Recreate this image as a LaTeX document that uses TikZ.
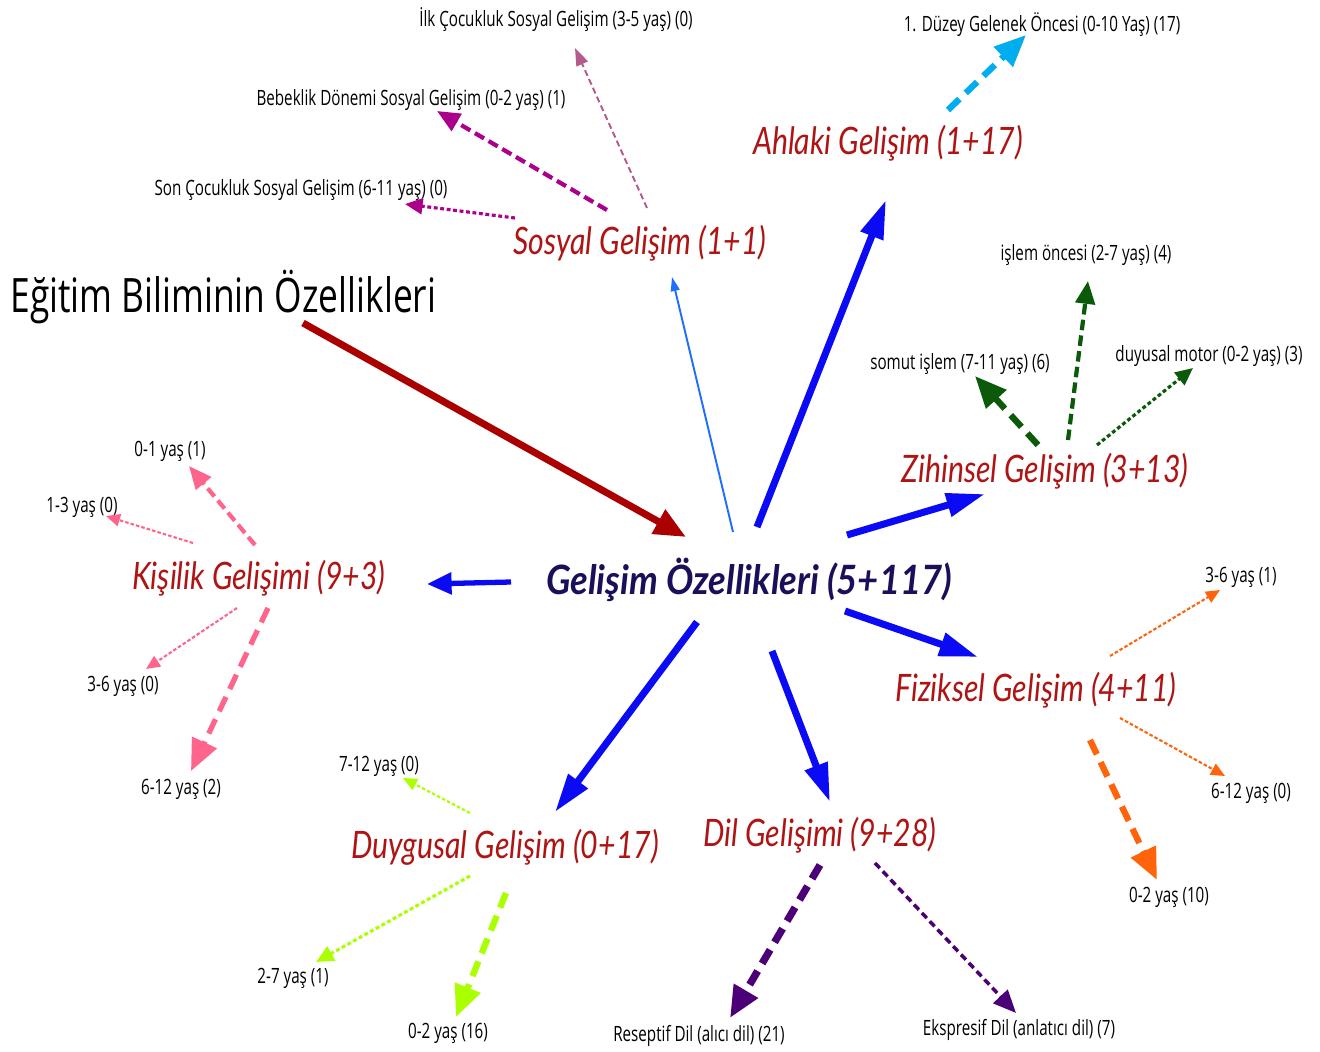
\documentclass[tikz,border=0pt]{standalone}
\usepackage{fontspec}
\usetikzlibrary{arrows.meta,calc}
\newfontfamily\leaffont[FakeStretch=0.72]{Open Sans}
\newfontfamily\titlefont[FakeStretch=0.745]{Open Sans}
\newfontfamily\handfont[FakeStretch=0.8]{Lato}
\newfontfamily\centerfont[FakeStretch=0.9]{Lato}
\definecolor{catred}{RGB}{175,20,20}
\definecolor{navy}{RGB}{26,16,90}
\definecolor{myblue}{RGB}{10,10,245}
\definecolor{lightblue}{RGB}{30,110,255}
\definecolor{darkred}{RGB}{170,0,0}
\definecolor{magent}{RGB}{170,0,140}
\definecolor{mauve}{RGB}{180,90,140}
\definecolor{skyb}{RGB}{0,174,239}
\definecolor{dgreen}{RGB}{10,90,10}
\definecolor{orng}{RGB}{255,100,10}
\definecolor{purp}{RGB}{75,0,120}
\definecolor{lime}{RGB}{170,255,0}
\definecolor{pink}{RGB}{255,100,140}
\begin{document}
\begin{tikzpicture}[x=0.02cm,y=-0.02cm,
  leaf/.style={font=\leaffont\fontsize{12}{14}\selectfont, inner sep=0pt, text=black},
  cat/.style={font=\handfont\itshape\fontsize{21.5}{26}\selectfont, inner sep=0pt, text=catred},
  bigarr/.style={draw=myblue, line width=4pt, -{Triangle[length=22pt,width=13pt]}},
  thinarr/.style={draw=lightblue, line width=1.1pt, -{Triangle[length=8pt,width=5pt]}},
  redarr/.style={draw=darkred, line width=4pt, -{Triangle[length=18pt,width=15pt]}},
  dot/.style={line width=1.2pt, dash pattern=on 2pt off 1.2pt, -{Triangle[length=8pt,width=7pt]}},
  dotm/.style={line width=1.8pt, dash pattern=on 2.2pt off 1.5pt, -{Triangle[length=10pt,width=9pt]}},
  dashm/.style={line width=2.4pt, dash pattern=on 6pt off 3pt, -{Triangle[length=13pt,width=11pt]}},
  dashb/.style={line width=3.6pt, dash pattern=on 9pt off 5pt, -{Triangle[length=18pt,width=15pt]}}
]
\useasboundingbox (0,0) rectangle (1320,1052);
\fill[white] (0,0) rectangle (1320,1052);

% nodes
\node[font=\titlefont\fontsize{27}{32}\selectfont, inner sep=0pt, anchor=west] (T) at (10,297) {Eğitim Biliminin Özellikleri};
\coordinate (Tc) at (222,297);
\node[font=\centerfont\bfseries\itshape\fontsize{23}{28}\selectfont, inner sep=0pt, text=navy] (G) at (749,580) {Gelişim Özellikleri (5+117)};
\node[cat] (sos) at (640,243) {Sosyal Gelişim (1+1)};
\node[cat] (ahl) at (888,143) {Ahlaki Gelişim (1+17)};
\node[cat] (zih) at (1045,471) {Zihinsel Gelişim (3+13)};
\node[cat] (fiz) at (1036,690) {Fiziksel Gelişim (4+11)};
\node[cat] (dil) at (820,835) {Dil Gelişimi (9+28)};
\node[cat] (duy) at (505,847) {Duygusal Gelişim (0+17)};
\node[cat] (kis) at (259,578) {Kişilik Gelişimi (9+3)};

\node[leaf] (ilk) at (556,20) {İlk Çocukluk Sosyal Gelişim (3-5 yaş) (0)};
\node[leaf] (beb) at (411,100) {Bebeklik Dönemi Sosyal Gelişim (0-2 yaş) (1)};
\node[leaf] (son) at (301,190) {Son Çocukluk Sosyal Gelişim (6-11 yaş) (0)};
\node[leaf] (duz) at (1042,25) {1. Düzey Gelenek Öncesi (0-10 Yaş) (17)};
\node[leaf] (ion) at (1086,255) {işlem öncesi (2-7 yaş) (4)};
\node[leaf] (som) at (960,364) {somut işlem (7-11 yaş) (6)};
\node[leaf] (dmot) at (1209,356) {duyusal motor (0-2 yaş) (3)};
\node[leaf] (f36) at (1241,577) {3-6 yaş (1)};
\node[leaf] (f612) at (1251,793) {6-12 yaş (0)};
\node[leaf] (f02) at (1169,897) {0-2 yaş (10)};
\node[leaf] (eks) at (1019,1030) {Ekspresif Dil (anlatıcı dil) (7)};
\node[leaf] (res) at (699,1036) {Reseptif Dil (alıcı dil) (21)};
\node[leaf] (d016) at (448,1033) {0-2 yaş (16)};
\node[leaf] (d27) at (293,978) {2-7 yaş (1)};
\node[leaf] (d712) at (379,766) {7-12 yaş (0)};
\node[leaf] (k612) at (181,789) {6-12 yaş (2)};
\node[leaf] (k36) at (123,686) {3-6 yaş (0)};
\node[leaf] (k13) at (82,507) {1-3 yaş (0)};
\node[leaf] (k01) at (170,451) {0-1 yaş (1)};

% main arrows
\draw[redarr] ($(Tc)+(81,26)$) -- ($(G)+(-63,-43)$);
\draw[thinarr] ($(G)+(-16,-48)$) -- ($(sos)+(32,34)$);
\draw[bigarr] ($(G)+(8,-53)$) -- ($(ahl)+(-2,57)$);
\draw[bigarr] ($(G)+(98,-45)$) -- ($(zih)+(-60,23)$);
\draw[bigarr] ($(G)+(96,31)$) -- ($(fiz)+(-58,-33)$);
\draw[bigarr] ($(G)+(23,71)$) -- ($(dil)+(10,-33)$);
\draw[bigarr] ($(G)+(-52,42)$) -- ($(duy)+(50,-35)$);
\draw[bigarr, line width=3pt, -{Triangle[length=14pt,width=12pt]}] ($(G)+(-238,2)$) -- ($(kis)+(168,6)$);

% sosyal
\draw[mauve, line width=1.1pt, dash pattern=on 3.5pt off 2pt, -{Triangle[length=10pt,width=7pt]}] ($(sos)+(7,-35)$) -- ($(ilk)+(19,28)$);
\draw[magent, dashm] ($(sos)+(-33,-33)$) -- ($(beb)+(26,11)$);
\draw[magent, dotm] ($(sos)+(-125,-25)$) -- ($(son)+(104,14)$);
% ahlaki
\draw[skyb, dashb] ($(ahl)+(60,-33)$) -- ($(duz)+(-16,10)$);
% zihinsel
\draw[dgreen, dashb] ($(zih)+(-7,-26)$) -- ($(som)+(15,12)$);
\draw[dgreen, dashm] ($(zih)+(23,-31)$) -- ($(ion)+(2,26)$);
\draw[dgreen, dotm] ($(zih)+(52,-26)$) -- ($(dmot)+(-16,12)$);
% fiziksel
\draw[orng, dot] ($(fiz)+(74,-34)$) -- ($(f36)+(-21,13)$);
\draw[orng, dot] ($(fiz)+(84,28)$) -- ($(f612)+(-26,-17)$);
\draw[orng, dashb] ($(fiz)+(54,50)$) -- ($(f02)+(-12,-17)$);
% dil
\draw[purp, dashb, line width=4.2pt] ($(dil)+(0,30)$) -- ($(res)+(31,-18)$);
\draw[purp, dashm, line width=2pt, dash pattern=on 4pt off 2.5pt] ($(dil)+(55,28)$) -- ($(eks)+(-3,-17)$);
% duygusal
\draw[lime, dot] ($(duy)+(-35,-34)$) -- ($(d712)+(24,12)$);
\draw[lime, dotm] ($(duy)+(-35,29)$) -- ($(d27)+(23,-16)$);
\draw[lime, dashb] ($(duy)+(1,46)$) -- ($(d016)+(8,-16)$);
% kisilik
\draw[pink, dashm] ($(kis)+(-4,-33)$) -- ($(k01)+(19,15)$);
\draw[pink, dot] ($(kis)+(-66,-35)$) -- ($(k13)+(24,9)$);
\draw[pink, dot] ($(kis)+(-22,30)$) -- ($(k36)+(23,-17)$);
\draw[pink, dashb, line width=3pt] ($(kis)+(9,30)$) -- ($(k612)+(10,-18)$);
\end{tikzpicture}
\end{document}
